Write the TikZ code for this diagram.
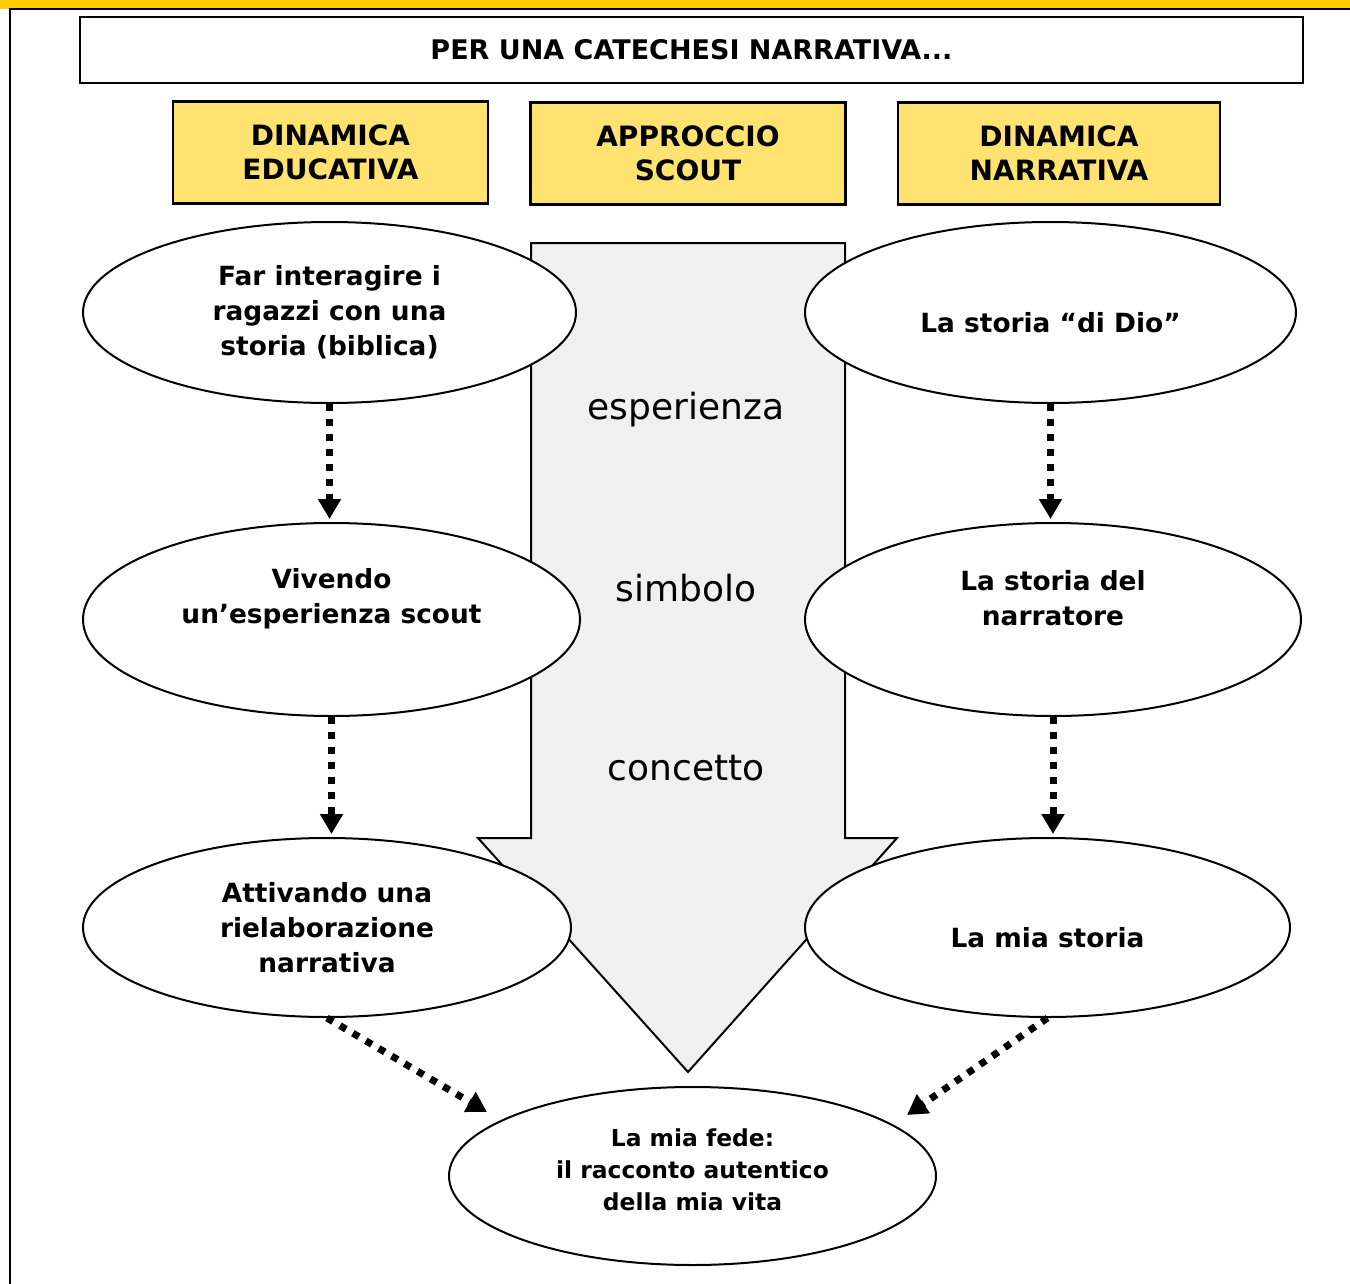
\documentclass[tikz,border=0pt]{standalone}
\usepackage{fontspec}
\setmainfont{DejaVu Sans}
\usetikzlibrary{shapes.geometric,arrows.meta}
\definecolor{topbar}{RGB}{255,204,0}
\definecolor{headfill}{RGB}{255,226,112}
\definecolor{arrowfill}{RGB}{240,240,240}
\begin{document}
\begin{tikzpicture}[x=0.5pt,y=-0.5pt,
  titlebox/.style={draw, line width=1.3pt, minimum width=611.5pt, minimum height=33pt, inner sep=0pt, font=\bfseries\fontsize{13.5}{17}\selectfont},
  headbox/.style={draw, line width=1.3pt, fill=headfill, minimum width=157.5pt, minimum height=51pt, inner sep=0pt, align=center, font=\bfseries\fontsize{14}{17}\selectfont},
  bubble/.style={ellipse, draw, line width=1pt, fill=white, inner sep=0pt},
  say/.style={inner sep=0pt, align=center, font=\bfseries\fontsize{13.2}{17.5}\selectfont},
  bigarrow/.style={draw, line width=1pt, fill=arrowfill, line join=miter},
  word/.style={inner sep=0pt, font=\fontsize{18}{20}\selectfont},
  flow/.style={line width=3.5pt, dash pattern=on 3.5pt off 4pt, -{Triangle[width=11pt,length=10pt]}}]
\useasboundingbox (0,0) rectangle (1350,1284);
% frame
\fill[topbar] (0,0) rectangle (1350,9);
\draw[line width=1pt] (10,1284) -- (10,9.5) -- (1350,9.5);
% title and headings
\node[titlebox] (title) at (691.5,50){PER UNA CATECHESI NARRATIVA...};
\node[headbox] (edu) at (330.5,152.5){DINAMICA\\EDUCATIVA};
\node[headbox] (scout) at (688,153.5){APPROCCIO\\SCOUT};
\node[headbox, minimum width=161pt] (narr) at (1059,153.5){DINAMICA\\NARRATIVA};
% big arrow
\draw[bigarrow] (531,243) -- (845,243) -- (845,838) -- (897,838) -- (688,1072) -- (478,838) -- (531,838) -- cycle;
\node[word] (esp) at (686,410){esperienza};
\node[word] (sim) at (686,588){simbolo};
\node[word] (con) at (686,768){concetto};
% left column
\node[bubble, minimum width=246.5pt, minimum height=90.5pt,
  label={[say]center:Far interagire i\\ragazzi con una\\storia (biblica)}] (e1) at (329.5,312.5){};
\node[bubble, minimum width=248.5pt, minimum height=96.5pt,
  label={[say, yshift=10.5pt]center:Vivendo\\un’esperienza scout}] (e2) at (331.5,619.5){};
\node[bubble, minimum width=244pt, minimum height=89.5pt,
  label={[say]center:Attivando una\\rielaborazione\\narrativa}] (e3) at (327,927.5){};
% right column
\node[bubble, minimum width=245.5pt, minimum height=90.5pt,
  label={[say, yshift=-5pt]center:La storia “di Dio”}] (e4) at (1050.5,312.5){};
\node[bubble, minimum width=248pt, minimum height=96.5pt,
  label={[say, yshift=10.5pt]center:La storia del\\narratore}] (e5) at (1053,619.5){};
\node[bubble, minimum width=242.5pt, minimum height=89.5pt,
  label={[say, yshift=-5pt]center:La mia storia}] (e6) at (1047.5,927.5){};
% bottom
\node[bubble, minimum width=243.5pt, minimum height=89pt,
  label={[say, yshift=3pt, font=\bfseries\fontsize{11.7}{16}\selectfont]center:La mia fede:\\il racconto autentico\\della mia vita}] (e7) at (692.5,1176){};
\coordinate (t1) at (487,1112);
\coordinate (t2) at (907,1115);
\draw[flow, shorten >=1.5pt] (e1.south) -- (e1.south |- e2.north);
\draw[flow, shorten >=1.5pt] (e2.south) -- (e2.south |- e3.north);
\draw[flow, shorten >=1.5pt] (e4.south) -- (e4.south |- e5.north);
\draw[flow, shorten >=1.5pt] (e5.south) -- (e5.south |- e6.north);
\draw[flow] (e3.south) -- (t1);
\draw[flow] (e6.south) -- (t2);
\end{tikzpicture}
\end{document}
